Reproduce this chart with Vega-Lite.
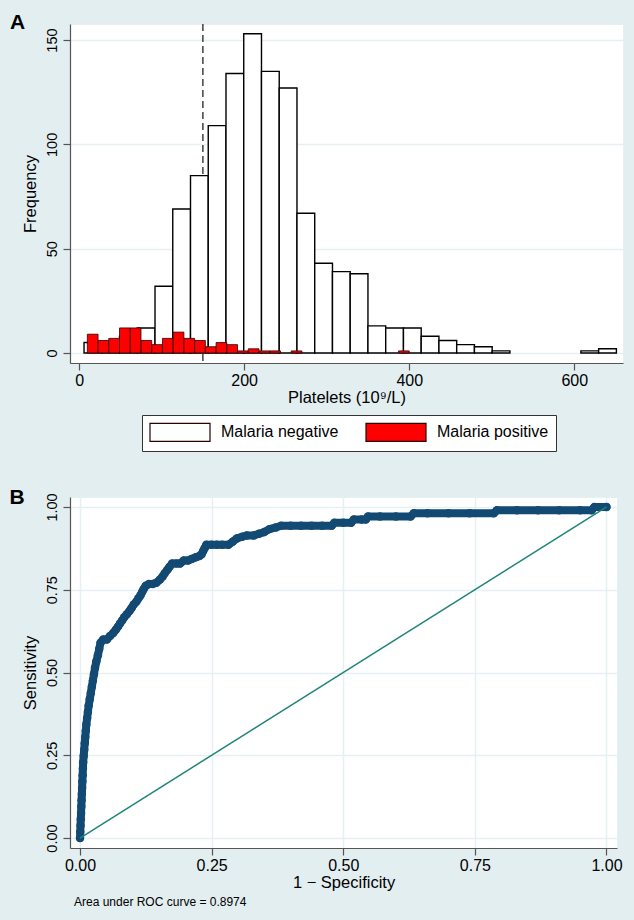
{
  "$schema": "https://vega.github.io/schema/vega-lite/v6.json",
  "background": "#e3eef0",
  "padding": {"left": 9, "top": 11, "right": 11, "bottom": 12},
  "config": {
    "font": "Liberation Sans",
    "view": {"fill": "white", "stroke": "#e6eff1"},
    "axis": {
      "domainColor": "#555", "tickColor": "#555", "labelColor": "#000", "titleColor": "#000",
      "titleFontWeight": "normal", "labelFont": "Liberation Sans", "titleFont": "Liberation Sans",
      "tickSize": 7, "gridColor": "#e6eff1", "gridWidth": 1.5, "domainWidth": 1.2, "tickWidth": 1.2
    },
    "concat": {"spacing": 81}
  },
  "datasets": {
    "hist": [
      {"group": "Malaria negative", "x0": 6, "x1": 27.5, "count": 5},
      {"group": "Malaria negative", "x0": 27.5, "x1": 49, "count": 5},
      {"group": "Malaria negative", "x0": 49, "x1": 70.5, "count": 8},
      {"group": "Malaria negative", "x0": 70.5, "x1": 92, "count": 12},
      {"group": "Malaria negative", "x0": 92, "x1": 113.5, "count": 32},
      {"group": "Malaria negative", "x0": 113.5, "x1": 135, "count": 69},
      {"group": "Malaria negative", "x0": 135, "x1": 156.5, "count": 85},
      {"group": "Malaria negative", "x0": 156.5, "x1": 178, "count": 109},
      {"group": "Malaria negative", "x0": 178, "x1": 199.5, "count": 134},
      {"group": "Malaria negative", "x0": 199.5, "x1": 221, "count": 153},
      {"group": "Malaria negative", "x0": 221, "x1": 242.5, "count": 135},
      {"group": "Malaria negative", "x0": 242.5, "x1": 264, "count": 127},
      {"group": "Malaria negative", "x0": 264, "x1": 285.5, "count": 67},
      {"group": "Malaria negative", "x0": 285.5, "x1": 307, "count": 43},
      {"group": "Malaria negative", "x0": 307, "x1": 328.5, "count": 39},
      {"group": "Malaria negative", "x0": 328.5, "x1": 350, "count": 38},
      {"group": "Malaria negative", "x0": 350, "x1": 371.5, "count": 13},
      {"group": "Malaria negative", "x0": 371.5, "x1": 393, "count": 12},
      {"group": "Malaria negative", "x0": 393, "x1": 414.5, "count": 12},
      {"group": "Malaria negative", "x0": 414.5, "x1": 436, "count": 8},
      {"group": "Malaria negative", "x0": 436, "x1": 457.5, "count": 6},
      {"group": "Malaria negative", "x0": 457.5, "x1": 479, "count": 4},
      {"group": "Malaria negative", "x0": 479, "x1": 500.5, "count": 3},
      {"group": "Malaria negative", "x0": 500.5, "x1": 522, "count": 1},
      {"group": "Malaria negative", "x0": 608, "x1": 629.5, "count": 1},
      {"group": "Malaria negative", "x0": 629.5, "x1": 651, "count": 2},
      {"group": "Malaria positive", "x0": 10, "x1": 23, "count": 9},
      {"group": "Malaria positive", "x0": 23, "x1": 36, "count": 6},
      {"group": "Malaria positive", "x0": 36, "x1": 49, "count": 7},
      {"group": "Malaria positive", "x0": 49, "x1": 62, "count": 12},
      {"group": "Malaria positive", "x0": 62, "x1": 75, "count": 12},
      {"group": "Malaria positive", "x0": 75, "x1": 88, "count": 6},
      {"group": "Malaria positive", "x0": 88, "x1": 101, "count": 4},
      {"group": "Malaria positive", "x0": 101, "x1": 114, "count": 7},
      {"group": "Malaria positive", "x0": 114, "x1": 127, "count": 10},
      {"group": "Malaria positive", "x0": 127, "x1": 140, "count": 7},
      {"group": "Malaria positive", "x0": 140, "x1": 153, "count": 6},
      {"group": "Malaria positive", "x0": 153, "x1": 166, "count": 3},
      {"group": "Malaria positive", "x0": 166, "x1": 179, "count": 5},
      {"group": "Malaria positive", "x0": 179, "x1": 192, "count": 4},
      {"group": "Malaria positive", "x0": 192, "x1": 205, "count": 1},
      {"group": "Malaria positive", "x0": 205, "x1": 218, "count": 2},
      {"group": "Malaria positive", "x0": 218, "x1": 231, "count": 1},
      {"group": "Malaria positive", "x0": 231, "x1": 244, "count": 1},
      {"group": "Malaria positive", "x0": 257, "x1": 270, "count": 1},
      {"group": "Malaria positive", "x0": 387, "x1": 400, "count": 1}
    ],
    "roc": [
      {"fpr": 0.0, "sens": 0.0},
      {"fpr": 0.0005, "sens": 0.019},
      {"fpr": 0.001, "sens": 0.038},
      {"fpr": 0.0015, "sens": 0.057},
      {"fpr": 0.002, "sens": 0.076},
      {"fpr": 0.0025, "sens": 0.095},
      {"fpr": 0.003, "sens": 0.114},
      {"fpr": 0.0035, "sens": 0.133},
      {"fpr": 0.004, "sens": 0.152},
      {"fpr": 0.0045, "sens": 0.171},
      {"fpr": 0.005, "sens": 0.19},
      {"fpr": 0.0055, "sens": 0.21},
      {"fpr": 0.006, "sens": 0.229},
      {"fpr": 0.007, "sens": 0.248},
      {"fpr": 0.008, "sens": 0.267},
      {"fpr": 0.009, "sens": 0.286},
      {"fpr": 0.01, "sens": 0.305},
      {"fpr": 0.011, "sens": 0.324},
      {"fpr": 0.012, "sens": 0.343},
      {"fpr": 0.0135, "sens": 0.362},
      {"fpr": 0.015, "sens": 0.381},
      {"fpr": 0.0165, "sens": 0.4},
      {"fpr": 0.0185, "sens": 0.419},
      {"fpr": 0.0205, "sens": 0.438},
      {"fpr": 0.0225, "sens": 0.457},
      {"fpr": 0.0245, "sens": 0.476},
      {"fpr": 0.0265, "sens": 0.495},
      {"fpr": 0.0285, "sens": 0.514},
      {"fpr": 0.031, "sens": 0.533},
      {"fpr": 0.034, "sens": 0.552},
      {"fpr": 0.0365, "sens": 0.571},
      {"fpr": 0.039, "sens": 0.59},
      {"fpr": 0.044, "sens": 0.6},
      {"fpr": 0.051, "sens": 0.6},
      {"fpr": 0.057, "sens": 0.61},
      {"fpr": 0.063, "sens": 0.619},
      {"fpr": 0.068, "sens": 0.629},
      {"fpr": 0.072, "sens": 0.638},
      {"fpr": 0.076, "sens": 0.648},
      {"fpr": 0.08, "sens": 0.657},
      {"fpr": 0.084, "sens": 0.667},
      {"fpr": 0.089, "sens": 0.676},
      {"fpr": 0.094, "sens": 0.686},
      {"fpr": 0.098, "sens": 0.695},
      {"fpr": 0.102, "sens": 0.705},
      {"fpr": 0.107, "sens": 0.714},
      {"fpr": 0.111, "sens": 0.724},
      {"fpr": 0.115, "sens": 0.733},
      {"fpr": 0.118, "sens": 0.743},
      {"fpr": 0.121, "sens": 0.752},
      {"fpr": 0.125, "sens": 0.762},
      {"fpr": 0.131, "sens": 0.767},
      {"fpr": 0.138, "sens": 0.767},
      {"fpr": 0.145, "sens": 0.771},
      {"fpr": 0.152, "sens": 0.781},
      {"fpr": 0.157, "sens": 0.79},
      {"fpr": 0.161, "sens": 0.8},
      {"fpr": 0.166, "sens": 0.81},
      {"fpr": 0.17, "sens": 0.819},
      {"fpr": 0.175, "sens": 0.829},
      {"fpr": 0.183, "sens": 0.829},
      {"fpr": 0.19, "sens": 0.829},
      {"fpr": 0.197, "sens": 0.838},
      {"fpr": 0.205, "sens": 0.838},
      {"fpr": 0.212, "sens": 0.843},
      {"fpr": 0.22, "sens": 0.848},
      {"fpr": 0.227, "sens": 0.852},
      {"fpr": 0.231, "sens": 0.857},
      {"fpr": 0.234, "sens": 0.867},
      {"fpr": 0.237, "sens": 0.876},
      {"fpr": 0.24, "sens": 0.886},
      {"fpr": 0.25, "sens": 0.886},
      {"fpr": 0.26, "sens": 0.886},
      {"fpr": 0.27, "sens": 0.886},
      {"fpr": 0.282, "sens": 0.886},
      {"fpr": 0.29, "sens": 0.895},
      {"fpr": 0.298, "sens": 0.905},
      {"fpr": 0.308, "sens": 0.91},
      {"fpr": 0.317, "sens": 0.914},
      {"fpr": 0.33, "sens": 0.914},
      {"fpr": 0.34, "sens": 0.919},
      {"fpr": 0.35, "sens": 0.924},
      {"fpr": 0.36, "sens": 0.933},
      {"fpr": 0.372, "sens": 0.938},
      {"fpr": 0.382, "sens": 0.943},
      {"fpr": 0.4, "sens": 0.943},
      {"fpr": 0.42, "sens": 0.943},
      {"fpr": 0.44, "sens": 0.943},
      {"fpr": 0.46, "sens": 0.943},
      {"fpr": 0.478, "sens": 0.943},
      {"fpr": 0.483, "sens": 0.952},
      {"fpr": 0.5, "sens": 0.952},
      {"fpr": 0.515, "sens": 0.952},
      {"fpr": 0.52, "sens": 0.962},
      {"fpr": 0.535, "sens": 0.962},
      {"fpr": 0.543, "sens": 0.962},
      {"fpr": 0.547, "sens": 0.971},
      {"fpr": 0.57, "sens": 0.971},
      {"fpr": 0.6, "sens": 0.971},
      {"fpr": 0.628, "sens": 0.971},
      {"fpr": 0.634, "sens": 0.981},
      {"fpr": 0.66, "sens": 0.981},
      {"fpr": 0.7, "sens": 0.981},
      {"fpr": 0.74, "sens": 0.981},
      {"fpr": 0.786, "sens": 0.981},
      {"fpr": 0.792, "sens": 0.99},
      {"fpr": 0.83, "sens": 0.99},
      {"fpr": 0.87, "sens": 0.99},
      {"fpr": 0.91, "sens": 0.99},
      {"fpr": 0.95, "sens": 0.99},
      {"fpr": 0.972, "sens": 0.99},
      {"fpr": 0.977, "sens": 1.0},
      {"fpr": 1.0, "sens": 1.0}
    ],
    "diag": [
      {"fpr": 0, "sens": 0},
      {"fpr": 1, "sens": 1}
    ]
  },
  "vconcat": [
    {
      "width": 553,
      "height": 339,
      "title": {"text": "A", "anchor": "start", "frame": "bounds", "fontSize": 21, "fontWeight": "bold", "offset": -10, "dx": -12, "color": "black"},
      "layer": [
        {
          "data": {"values": [{"cut": 150}]},
          "mark": {"type": "rule", "strokeDash": [7, 4], "color": "#333", "strokeWidth": 1.4},
          "encoding": {
            "x": {"field": "cut", "type": "quantitative"}
          }
        },
        {
          "data": {"name": "hist"},
          "transform": [{"filter": "datum.group == 'Malaria negative'"}],
          "mark": {"type": "bar", "stroke": "black", "strokeWidth": 1.4},
          "encoding": {
            "x": {"field": "x0", "type": "quantitative",
              "scale": {"domain": [-11, 659], "nice": false, "zero": false},
              "axis": {"values": [0, 200, 400, 600], "title": "Platelets (10⁹/L)", "grid": false, "labelFontSize": 16, "titleFontSize": 16.5, "labelPadding": 2, "titlePadding": 1, "labelFlush": false}},
            "x2": {"field": "x1"},
            "y": {"field": "count", "type": "quantitative",
              "scale": {"domain": [-4.8, 157.7], "nice": false, "zero": false},
              "axis": {"values": [0, 50, 100, 150], "title": "Frequency", "grid": true, "labelAngle": 270, "labelAlign": "center", "labelBaseline": "bottom", "labelFontSize": 14.5, "titleFontSize": 16.5, "labelPadding": 4, "titlePadding": 6}},
            "y2": {"datum": 0},
            "fill": {"field": "group", "type": "nominal",
              "scale": {"domain": ["Malaria negative", "Malaria positive"], "range": ["white", "#ff0000"]},
              "legend": {"orient": "none", "legendX": 72, "legendY": 391, "direction": "horizontal", "title": null,
                "symbolType": "M-1,-1L5.667,-1L5.667,1L-1,1Z", "symbolSize": 324, "labelOffset": 52,
                "labelFontSize": 16, "columnPadding": 24, "padding": 7, "strokeColor": "#333", "fillColor": "white",
                "symbolStrokeColor": "black", "symbolStrokeWidth": 1.2, "symbolOpacity": 1, "labelColor": "black", "labelFont": "Liberation Sans"}}
          }
        },
        {
          "data": {"name": "hist"},
          "transform": [{"filter": "datum.group == 'Malaria positive'"}],
          "mark": {"type": "bar", "stroke": "#2a0000", "strokeWidth": 0.8},
          "encoding": {
            "x": {"field": "x0", "type": "quantitative"},
            "x2": {"field": "x1"},
            "y": {"field": "count", "type": "quantitative"},
            "y2": {"datum": 0},
            "fill": {"field": "group", "type": "nominal",
              "scale": {"domain": ["Malaria negative", "Malaria positive"], "range": ["white", "#ff0000"]}}
          }
        }
      ]
    },
    {
      "title": {"text": "B", "anchor": "start", "frame": "bounds", "fontSize": 21, "fontWeight": "bold", "offset": -16, "dx": -12, "color": "black"},
      "vconcat": [
        {
          "width": 547,
          "height": 351,
          "title": {"text": "Area under ROC curve = 0.8974", "orient": "bottom", "anchor": "start", "frame": "group", "fontSize": 12, "fontWeight": "normal", "offset": 6, "dx": 4, "color": "black"},
          "layer": [
            {
              "data": {"name": "roc"},
              "mark": {"type": "line", "color": "#124a73", "strokeWidth": 8, "strokeCap": "round", "strokeJoin": "round"},
              "encoding": {
                "x": {"field": "fpr", "type": "quantitative",
                  "scale": {"domain": [-0.019, 1.02], "nice": false, "zero": false},
                  "axis": {"values": [0, 0.25, 0.5, 0.75, 1], "format": ".2f", "title": "1 − Specificity", "grid": true, "labelFontSize": 16, "titleFontSize": 16.5, "labelPadding": 2, "titlePadding": 1, "labelFlush": false}},
                "y": {"field": "sens", "type": "quantitative",
                  "scale": {"domain": [-0.03, 1.03], "nice": false, "zero": false},
                  "axis": {"values": [0, 0.25, 0.5, 0.75, 1], "format": ".2f", "title": "Sensitivity", "grid": true, "labelAngle": 270, "labelAlign": "center", "labelBaseline": "bottom", "labelFontSize": 14.5, "titleFontSize": 16.5, "labelPadding": 4, "titlePadding": 6, "labelFlush": false}}
              }
            },
            {
              "data": {"name": "roc"},
              "mark": {"type": "point", "filled": true, "color": "#124a73", "size": 72, "opacity": 1},
              "encoding": {
                "x": {"field": "fpr", "type": "quantitative"},
                "y": {"field": "sens", "type": "quantitative"}
              }
            },
            {
              "data": {"name": "diag"},
              "mark": {"type": "line", "color": "#1e857a", "strokeWidth": 1.5},
              "encoding": {
                "x": {"field": "fpr", "type": "quantitative"},
                "y": {"field": "sens", "type": "quantitative"}
              }
            }
          ]
        }
      ]
    }
  ]
}
